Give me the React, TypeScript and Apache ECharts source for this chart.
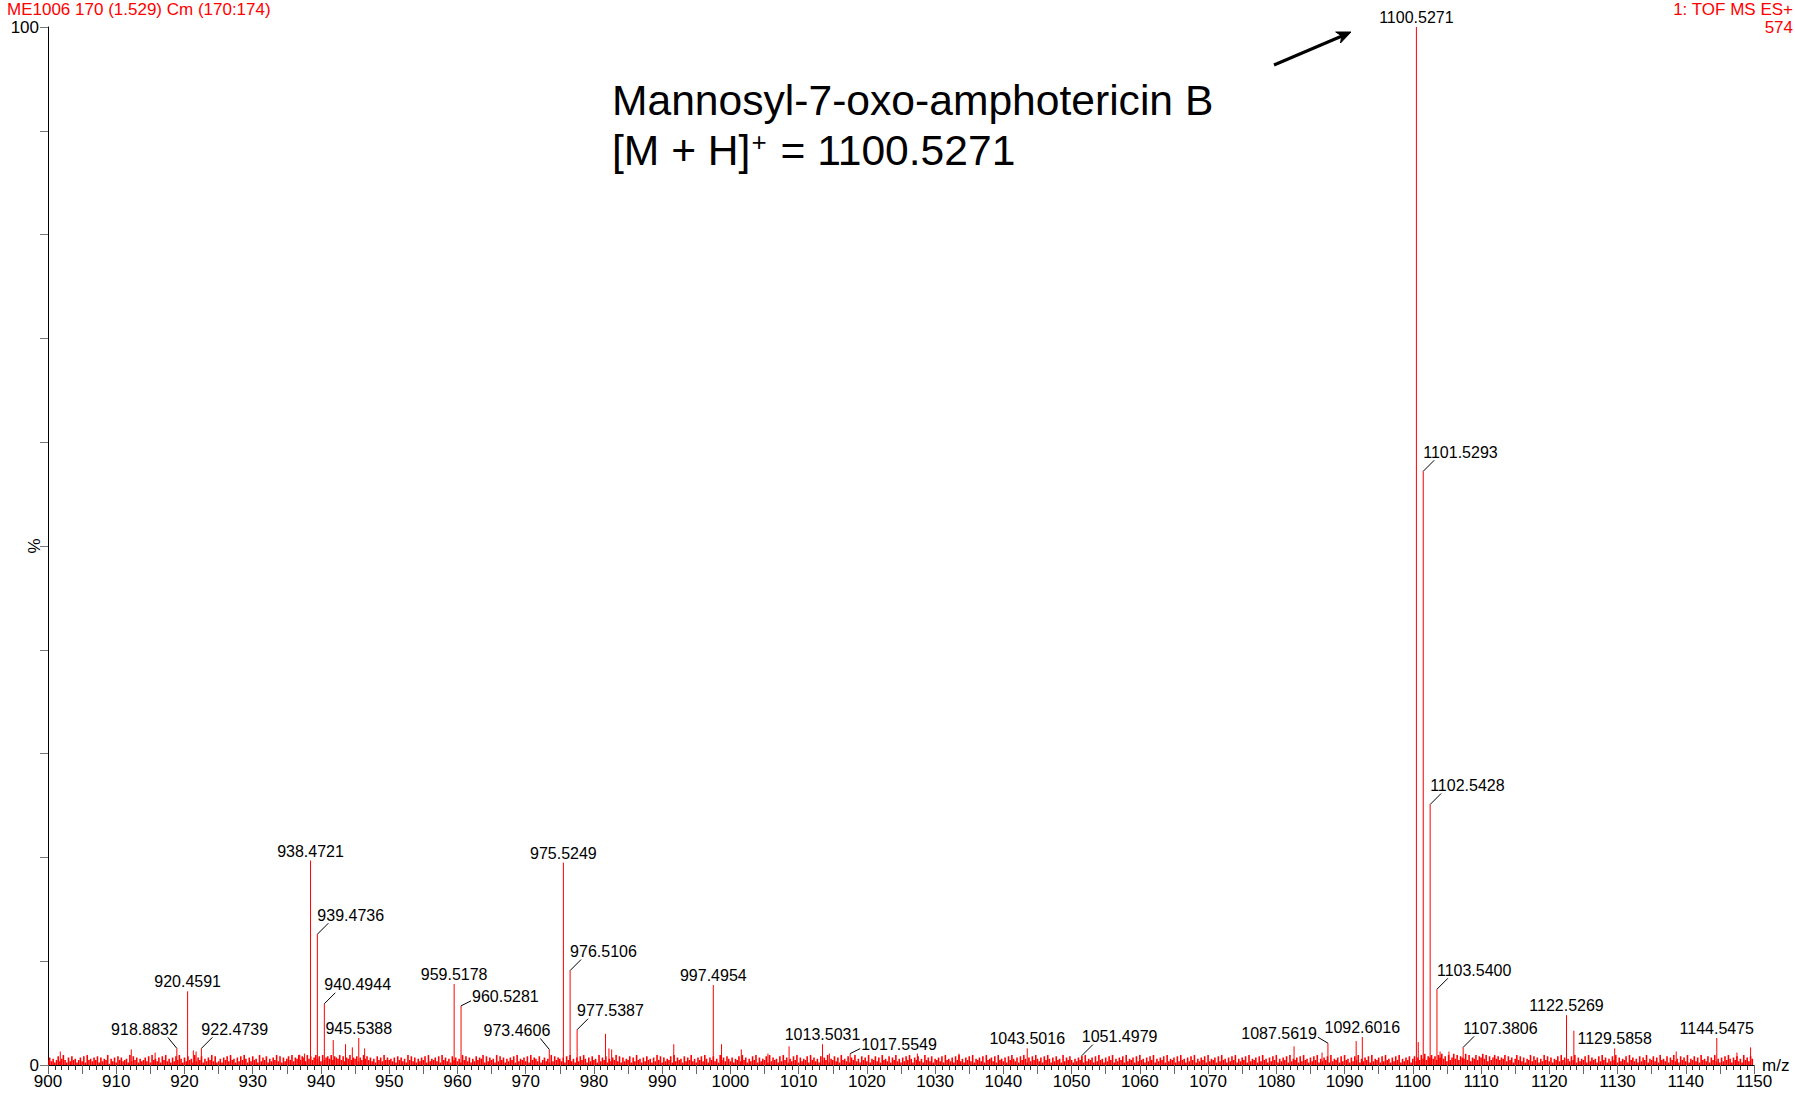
import React, { useEffect, useRef } from 'react';
import * as echarts from 'echarts';

const FONT = '"Liberation Sans", Arial, Helvetica, sans-serif';

// axis range / ticks
const X_MIN = 900;
const X_MAX = 1150;
const X_TICK_STEP = 5;
const X_LABEL_STEP = 10;
const Y_MIN = 0;
const Y_MAX = 100;
const Y_TICK_STEP = 10;
const Y_LABELS = [0, 100];

// labelled peaks (m/z, relative intensity %)
const PEAK_MZ = [
  918.8832, 920.4591, 922.4739, 938.4721, 939.4736, 940.4944, 945.5388, 959.5178, 960.5281,
  973.4606, 975.5249, 976.5106, 977.5387, 997.4954, 1013.5031, 1017.5549, 1043.5016, 1051.4979,
  1087.5619, 1092.6016, 1100.5271, 1101.5293, 1102.5428, 1103.54, 1107.3806, 1122.5269, 1129.5858,
  1144.5475,
];
const PEAK_INT = [
  1.6, 7.1, 1.6, 19.7, 12.6, 5.9, 2.6, 7.8, 5.7,
  1.5, 19.5, 9.1, 3.4, 7.7, 2.0, 1.1, 1.6, 0.9,
  2.1, 2.7, 100, 57.2, 25.1, 7.3, 1.7, 4.8, 1.6,
  2.6,
];
// label placement kind for each labelled peak (layout, not data)
const PEAK_LABEL_KIND = [
  'l', 'c', 'r', 'c', 'r', 'r', 'c', 'c', 'rs',
  'l', 'c', 'r', 'r', 'c', 'c', 'rs', 'c', 'r',
  'ls', 'c', 'c', 'r', 'r', 'r', 'r', 'c', 'c',
  'c',
];

// other visible, unlabelled peaks
const MINOR_MZ = [
  901.8, 912.2, 915.7, 921.3, 921.7, 936.9, 937.6, 941.8, 943.6, 944.6, 946.4, 981.7, 982.2, 982.6,
  991.7, 998.7, 1001.6, 1005.5, 1008.6, 1014.5, 1027.4, 1033.5, 1082.6, 1086.7, 1091.7, 1100.8,
  1104.0, 1105.3, 1123.6, 1138.6, 1147.5, 1149.5,
];
const MINOR_INT = [
  1.3, 1.5, 1.2, 1.4, 1.3, 1.0, 1.1, 2.4, 2.0, 1.7, 1.6, 3.0, 1.6, 1.5,
  2.0, 2.0, 1.5, 1.1, 1.8, 1.1, 1.1, 1.1, 1.8, 1.2, 2.3, 2.2,
  1.3, 1.3, 3.3, 1.3, 1.2, 1.7,
];

// baseline noise, estimated: one digit per 0.25 m/z, each digit = NOISE_UNIT percent
const NOISE_STEP = 0.25;
const NOISE_ROW_SPAN = 25;
const NOISE_UNIT = 0.12;
const NOISE_ROWS = [
  '4635247358 4263745246 3728453647 2635481536 2746345283 7462534637 2845362748 3526374852 6374528364 7253648372',
  '3526473845 2637485263 7452836472 5364837263 5748365847 6385746857 3846758476 5847365846 5736485746 3527463846',
  '4536274635 2847362536 4728354637 2846352746 3528473625 3746582736 4528374625 3647283546 3728465372 4635283746',
  '5362748352 6374852637 4528364725 3648372635 4726384526 3745263847 2635472836 4527364835 2647385264 7352846375',
  '3625473846 2537482635 4728364527 3846253748 2635472846 3527364825 4736284537 2648352746 3825473628 4537264835',
  '2637485264 7352846372 5463728453 6274835264 7382546372 8456372845 3627485362 7485263748 5362748526 3745283647',
  '4253647283 5462738452 6374825364 7283546273 8452637482 5364728354 6273845263 7482536472 8354627384 5263748253',
  '6472835462 7384526374 8253647283 5462738452 6374825364 7283546273 8452637482 5364728354 6273845263 7482536472',
  '5736485947 6857486957 3846958476 5948365847 6958374685 7465837462 5847362548 3746253847 3625473846 2537482635',
  '4728364527 3846253748 2635472846 3527364825 4736284537 2648352746 3825473628 4537264835 2637485264 7352846375',
];

function buildSticks(): number[][] {
  const out: number[][] = [];
  NOISE_ROWS.forEach((row, r) => {
    const digits = row.replace(/\s/g, '');
    for (let j = 0; j < digits.length; j++) {
      out.push([X_MIN + r * NOISE_ROW_SPAN + j * NOISE_STEP, Number(digits[j]) * NOISE_UNIT, 0]);
    }
  });
  MINOR_MZ.forEach((mz, i) => out.push([mz, MINOR_INT[i], 1]));
  PEAK_MZ.forEach((mz, i) => out.push([mz, PEAK_INT[i], 1]));
  return out;
}

export default function App() {
  const ref = useRef<HTMLDivElement>(null);

  useEffect(() => {
    document.body.style.margin = '0';
    document.body.style.overflow = 'hidden';
    if (!ref.current) return;
    const chart = echarts.init(ref.current, undefined, { renderer: 'svg' });

    const sticks = buildSticks();
    const labelData = PEAK_MZ.map((mz, i) => [mz, PEAK_INT[i], i]);

    const option: any = {
      animation: false,
      backgroundColor: '#ffffff',
      textStyle: { fontFamily: FONT },
      grid: { left: 48, right: 41, top: 27, bottom: 28, containLabel: false, outerBoundsMode: 'none' },
      xAxis: {
        type: 'value',
        min: X_MIN,
        max: X_MAX,
        interval: X_TICK_STEP,
        name: 'm/z',
        nameLocation: 'end',
        nameGap: 8,
        nameMoveOverlap: false,
        nameTextStyle: { fontSize: 17, color: '#000', fontFamily: FONT },
        axisLine: { show: true, onZero: false, lineStyle: { color: '#000', width: 1 } },
        axisTick: { show: true, length: 9, lineStyle: { color: '#666' } },
        minorTick: { show: true, splitNumber: 5, length: 5, lineStyle: { color: '#333' } },
        splitLine: { show: false },
        minorSplitLine: { show: false },
        axisLabel: {
          fontSize: 17,
          color: '#000',
          fontFamily: FONT,
          margin: 8,
          formatter: (v: number) => (Math.round(v) % X_LABEL_STEP === 0 ? String(Math.round(v)) : ''),
        },
      },
      yAxis: {
        type: 'value',
        min: Y_MIN,
        max: Y_MAX,
        interval: Y_TICK_STEP,
        name: '%',
        nameLocation: 'middle',
        nameGap: 5,
        nameRotate: 90,
        nameMoveOverlap: false,
        nameTextStyle: { fontSize: 17, color: '#000', fontFamily: FONT },
        axisLine: { show: true, lineStyle: { color: '#000', width: 1 } },
        axisTick: { show: true, length: 8, lineStyle: { color: '#777' } },
        splitLine: { show: false },
        axisLabel: {
          fontSize: 17,
          color: '#000',
          fontFamily: FONT,
          margin: 9,
          formatter: (v: number) => (Y_LABELS.includes(v) ? String(v) : ''),
        },
      },
      series: [
        {
          type: 'custom',
          name: 'spectrum',
          data: sticks,
          encode: { x: 0, y: 1 },
          clip: true,
          silent: true,
          renderItem: (params: any, api: any) => {
            const x = api.value(0);
            const y = api.value(1);
            const isPeak = api.value(2) === 1;
            const p0 = api.coord([x, 0]);
            const p1 = api.coord([x, y]);
            return {
              type: 'line',
              shape: { x1: p0[0], y1: p0[1], x2: p1[0], y2: p1[1] },
              style: { stroke: '#ff0000', lineWidth: isPeak ? 1 : 1.6 },
            };
          },
        },
        {
          type: 'custom',
          name: 'labels',
          data: labelData,
          encode: { x: 0, y: 1 },
          clip: false,
          silent: true,
          z: 5,
          renderItem: (params: any, api: any) => {
            const x = api.value(0);
            const y = api.value(1);
            const idx = api.value(2);
            const [px, py] = api.coord([x, y]);
            const kind = PEAK_LABEL_KIND[idx];
            const text = x.toFixed(4);
            const children: any[] = [];
            let tx = px;
            let ty = py - 9.5;
            let align = 'center';
            if (kind === 'r') {
              children.push({ type: 'line', shape: { x1: px, y1: py, x2: px + 11, y2: py - 11 }, style: { stroke: '#000', lineWidth: 1 } });
              tx = px; ty = py - 19; align = 'left';
            } else if (kind === 'l') {
              children.push({ type: 'line', shape: { x1: px, y1: py, x2: px - 9, y2: py - 11 }, style: { stroke: '#000', lineWidth: 1 } });
              tx = px + 1; ty = py - 19; align = 'right';
            } else if (kind === 'rs') {
              children.push({ type: 'line', shape: { x1: px, y1: py, x2: px + 10, y2: py - 5 }, style: { stroke: '#000', lineWidth: 1 } });
              tx = px + 11; ty = py - 9; align = 'left';
            } else if (kind === 'ls') {
              children.push({ type: 'line', shape: { x1: px, y1: py, x2: px - 10, y2: py - 6 }, style: { stroke: '#000', lineWidth: 1 } });
              tx = px - 11; ty = py - 10; align = 'right';
            }
            children.push({
              type: 'text',
              style: {
                text,
                x: tx,
                y: ty,
                align,
                verticalAlign: 'middle',
                fontSize: 16,
                fontFamily: FONT,
                fill: '#000',
              },
            });
            return { type: 'group', children };
          },
        },
      ],
      graphic: [
        {
          type: 'text',
          x: 7,
          y: 1,
          style: { text: 'ME1006 170 (1.529) Cm (170:174)', fontSize: 17, fontFamily: FONT, fill: '#ff0000', verticalAlign: 'top', align: 'left' },
        },
        {
          type: 'text',
          x: 1793,
          y: 1,
          style: { text: '1: TOF MS ES+', fontSize: 17, fontFamily: FONT, fill: '#ff0000', verticalAlign: 'top', align: 'right' },
        },
        {
          type: 'text',
          x: 1793,
          y: 19,
          style: { text: '574', fontSize: 17, fontFamily: FONT, fill: '#ff0000', verticalAlign: 'top', align: 'right' },
        },
        {
          type: 'text',
          x: 612,
          y: 100,
          style: { text: 'Mannosyl-7-oxo-amphotericin B', fontSize: 42.6, fontFamily: FONT, fill: '#000', verticalAlign: 'middle', align: 'left' },
        },
        {
          type: 'text',
          x: 612,
          y: 150,
          style: {
            text: '{a|[M + H]}{s|+}{a| = 1100.5271}',
            verticalAlign: 'middle',
            align: 'left',
            rich: {
              a: { fontSize: 42.6, fontFamily: FONT, fill: '#000', color: '#000' },
              s: { fontSize: 26, fontFamily: FONT, fill: '#000', color: '#000', verticalAlign: 'top', padding: [0, 2, 0, 1] },
            },
          },
        },
        {
          type: 'line',
          shape: { x1: 1274, y1: 65, x2: 1342, y2: 36 },
          style: { stroke: '#000', lineWidth: 3 },
        },
        {
          type: 'polygon',
          shape: { points: [[1351, 32], [1340.5, 43], [1341.8, 35.9], [1335.7, 32]] },
          style: { fill: '#000', stroke: '#000', lineWidth: 1 },
        },
      ],
    };

    chart.setOption(option);
    return () => chart.dispose();
  }, []);

  return <div ref={ref} style={{ width: 1795, height: 1093 }} />;
}
